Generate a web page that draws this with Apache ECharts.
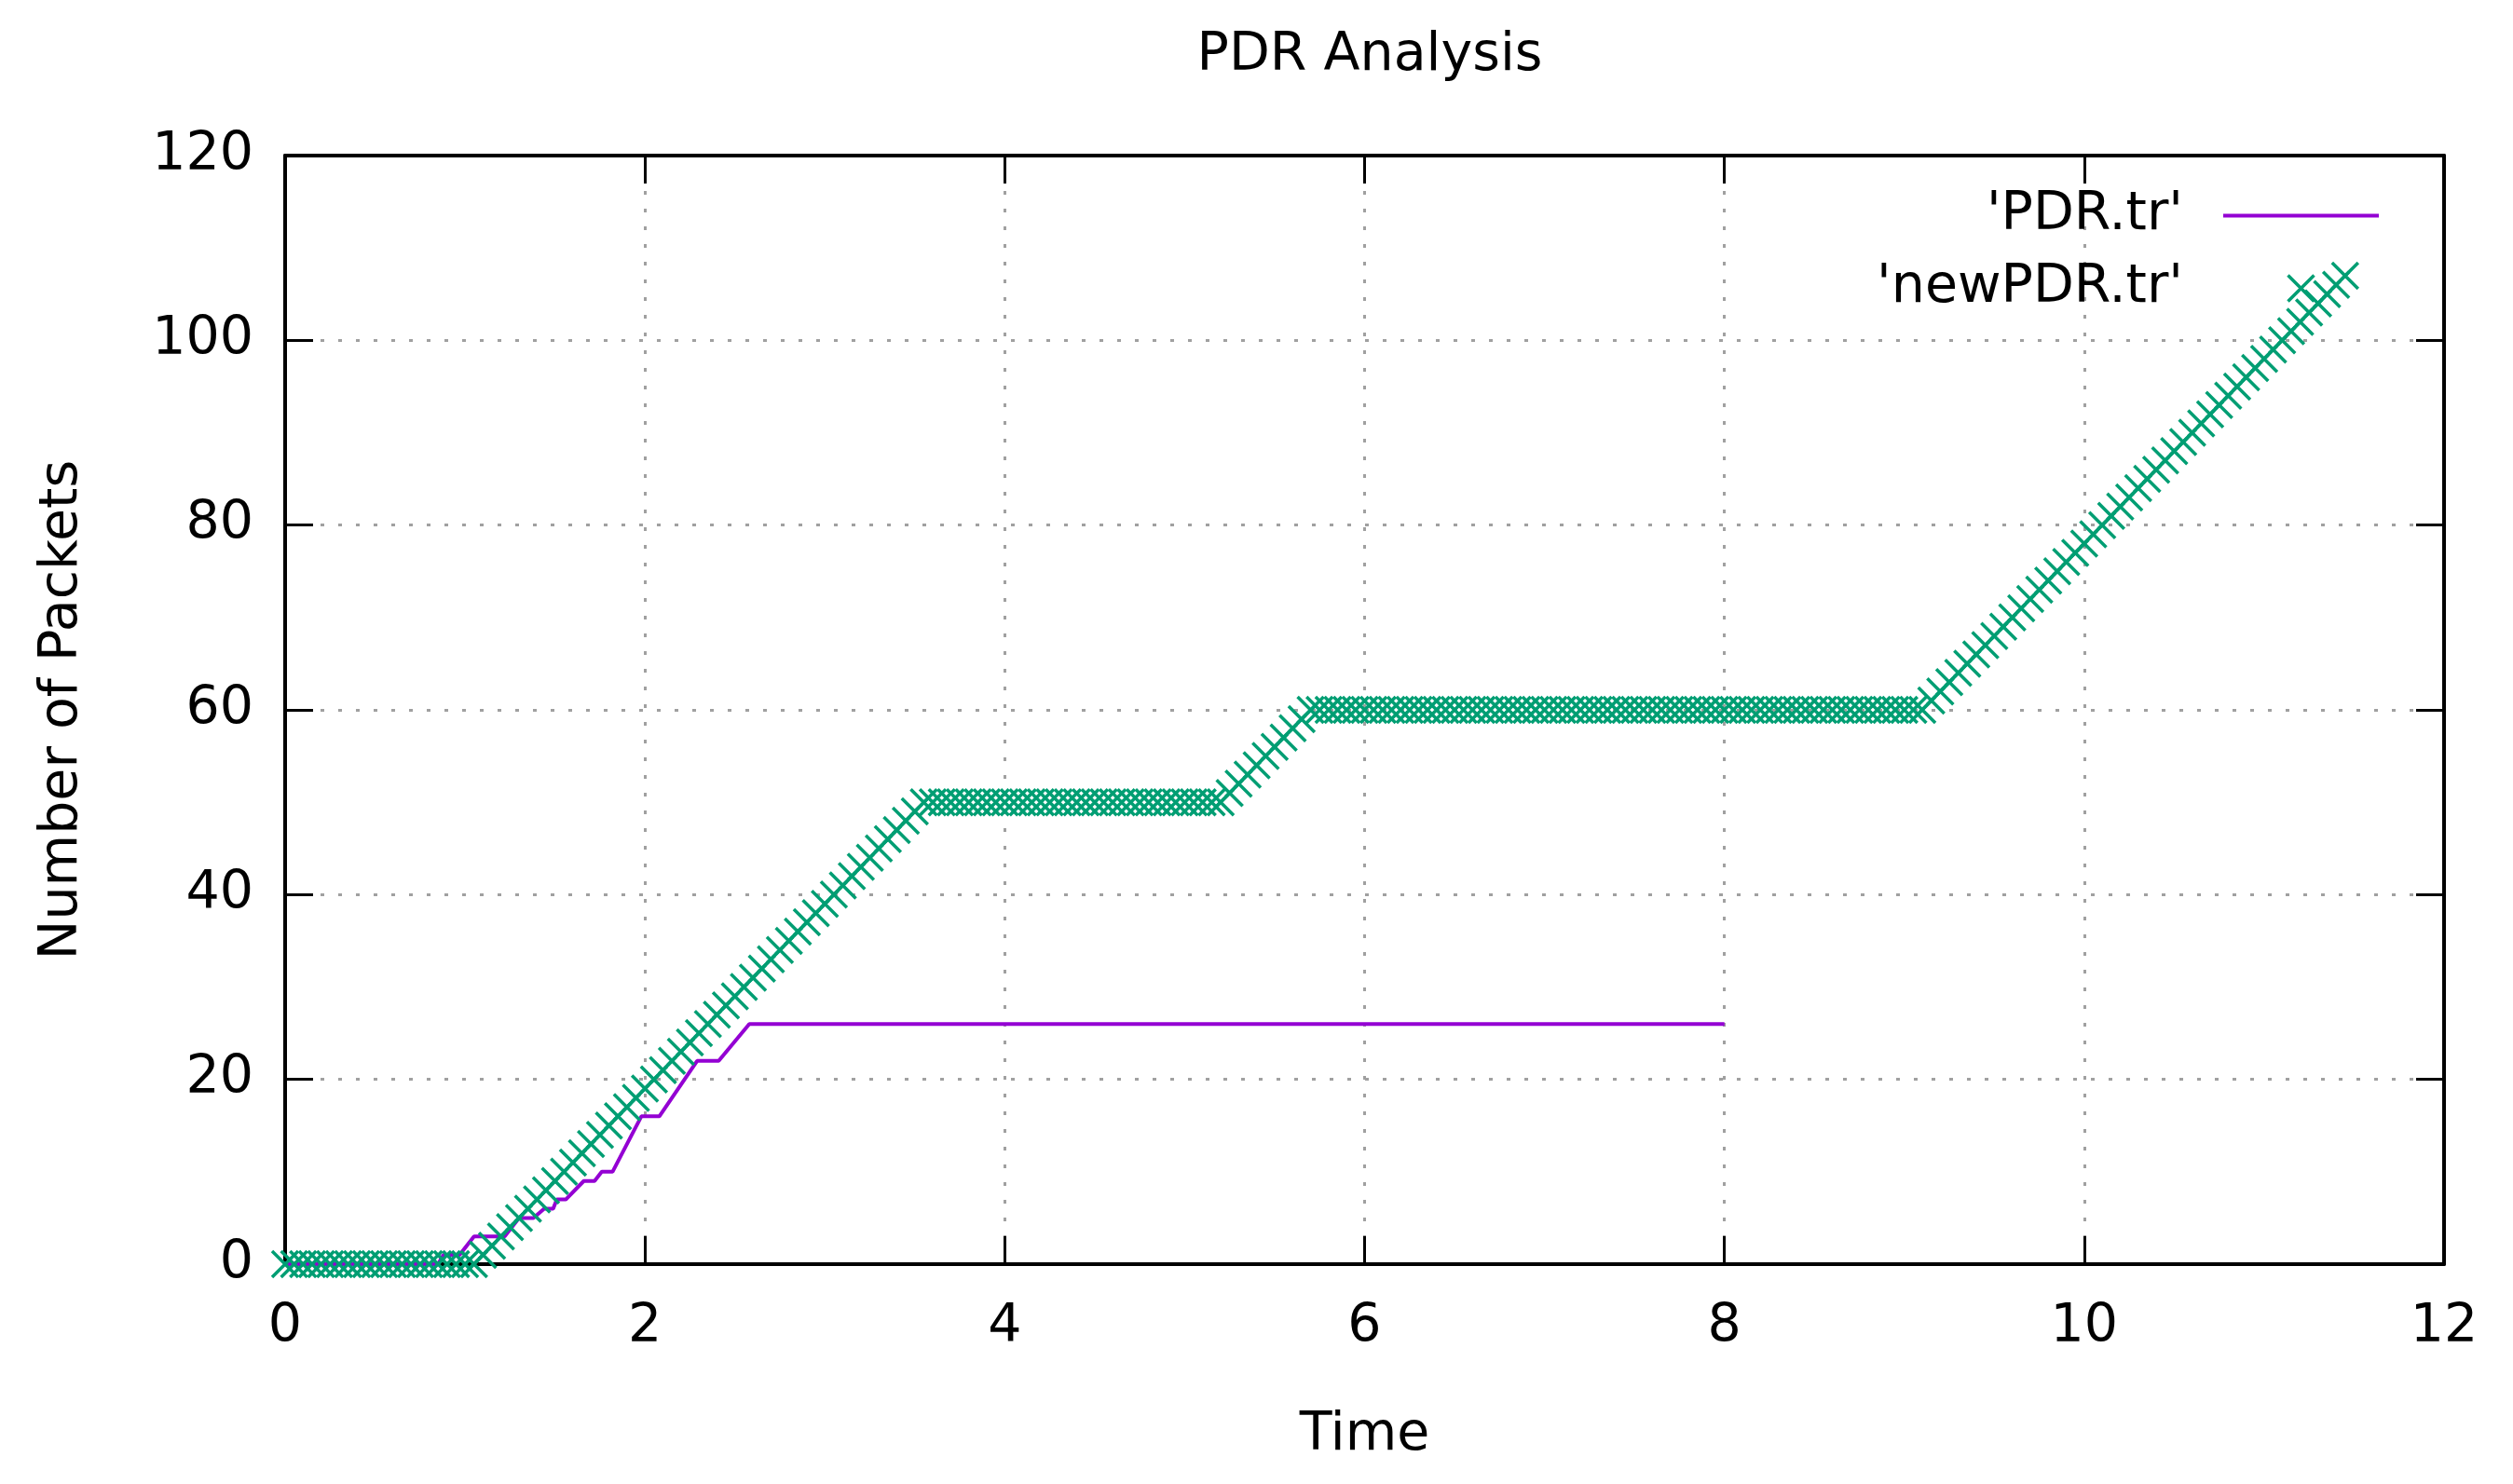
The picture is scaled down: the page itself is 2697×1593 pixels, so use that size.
<!DOCTYPE html>
<html><head><meta charset="utf-8">
<script src="https://cdn.jsdelivr.net/npm/echarts@6/dist/echarts.min.js"></script>
<style>html,body{margin:0;padding:0;background:#fff}#c{width:2697px;height:1593px}</style>
</head><body><div id="c"></div>
<script>
const titleText = 'PDR Analysis';
const xName = 'Time';
const yName = 'Number of Packets';
const seriesNames = ["'PDR.tr'", "'newPDR.tr'"];
const xTicks = [0, 2, 4, 6, 8, 10, 12];
const yTicks = [0, 20, 40, 60, 80, 100, 120];

const pdrTime  = [0, 0.85, 0.88, 0.97, 1.05, 1.22, 1.30, 1.38, 1.44, 1.49, 1.51, 1.56, 1.66, 1.72, 1.76, 1.82, 1.98, 2.08, 2.29, 2.41, 2.58, 8.0];
const pdrCount = [0, 0,    1,    1,    3,    3,    5,    5,    6,    6,    7,    7,    9,    9,    10,   10,   16,   16,   22,   22,   26,   26];

const newTime = [
  0,0.05,0.1,0.15,0.2,0.25,0.3,0.35,0.4,0.45,0.5,0.55,0.6,0.65,0.7,0.75,0.8,0.85,0.9,0.95,
  1,1.05,1.1,1.15,1.2,1.25,1.3,1.35,1.4,1.45,1.5,1.55,1.6,1.65,1.7,1.75,1.8,1.85,1.9,1.95,
  2,2.05,2.1,2.15,2.2,2.25,2.3,2.35,2.4,2.45,2.5,2.55,2.6,2.65,2.7,2.75,2.8,2.85,2.9,2.95,
  3,3.05,3.1,3.15,3.2,3.25,3.3,3.35,3.4,3.45,3.5,3.55,3.6,3.65,3.7,3.75,3.8,3.85,3.9,3.95,
  4,4.05,4.1,4.15,4.2,4.25,4.3,4.35,4.4,4.45,4.5,4.55,4.6,4.65,4.7,4.75,4.8,4.85,4.9,4.95,
  5,5.05,5.1,5.15,5.2,5.25,5.3,5.35,5.4,5.45,5.5,5.55,5.6,5.65,5.7,5.75,5.8,5.85,5.9,5.95,
  6,6.05,6.1,6.15,6.2,6.25,6.3,6.35,6.4,6.45,6.5,6.55,6.6,6.65,6.7,6.75,6.8,6.85,6.9,6.95,
  7,7.05,7.1,7.15,7.2,7.25,7.3,7.35,7.4,7.45,7.5,7.55,7.6,7.65,7.7,7.75,7.8,7.85,7.9,7.95,
  8,8.05,8.1,8.15,8.2,8.25,8.3,8.35,8.4,8.45,8.5,8.55,8.6,8.65,8.7,8.75,8.8,8.85,8.9,8.95,
  9,9.05,9.1,9.15,9.2,9.25,9.3,9.35,9.4,9.45,9.5,9.55,9.6,9.65,9.7,9.75,9.8,9.85,9.9,9.95,
  10,10.05,10.1,10.15,10.2,10.25,10.3,10.35,10.4,10.45,10.5,10.55,10.6,10.65,10.7,10.75,10.8,10.85,10.9,10.95,
  11,11.05,11.1,11.15,11.2,11.25,11.3,11.35,11.4,11.45
];
const newCount = [
  0,0,0,0,0,0,0,0,0,0,0,0,0,0,0,0,0,0,0,0,
  0,0,1,2,3,4,5,6,7,8,9,10,11,12,13,14,15,16,17,18,
  19,20,21,22,23,24,25,26,27,28,29,30,31,32,33,34,35,36,37,38,
  39,40,41,42,43,44,45,46,47,48,49,50,50,50,50,50,50,50,50,50,
  50,50,50,50,50,50,50,50,50,50,50,50,50,50,50,50,50,50,50,50,
  50,50,50,50,50,51,52,53,54,55,56,57,58,59,60,60,60,60,60,60,
  60,60,60,60,60,60,60,60,60,60,60,60,60,60,60,60,60,60,60,60,
  60,60,60,60,60,60,60,60,60,60,60,60,60,60,60,60,60,60,60,60,
  60,60,60,60,60,60,60,60,60,60,60,60,60,60,60,60,60,60,60,60,
  60,60,60,61,62,63,64,65,66,67,68,69,70,71,72,73,74,75,76,77,
  78,79,80,81,82,83,84,85,86,87,88,89,90,91,92,93,94,95,96,97,
  98,99,100,101,102,103,104,105,106,107
];

const FONT = 'DejaVu Sans';
const FS = 57;
const PURPLE = '#9400d3';
const GREEN = '#009e73';
const CROSS = 'path://M0,0L10,10M0,10L10,0';
const LINE_ICON = 'path://M0,0L167,0L167,4L0,4Z';

const zip = (a, b) => a.map((v, i) => [v, b[i]]);

const chart = echarts.init(document.getElementById('c'), null, {renderer: 'canvas'});

const gridLine = {show: true, lineStyle: {color: '#a0a0a0', width: 3, type: [4, 15]}};
const axisLineStyle = {show: true, onZero: false, lineStyle: {color: '#000', width: 4}};
const tickStyle = {show: true, inside: true, length: 30, lineStyle: {color: '#000', width: 3}};
const labelText = {color: '#000', fontSize: FS, fontFamily: FONT};

const xMin = xTicks[0], xMax = xTicks[xTicks.length - 1], xStep = xTicks[1] - xTicks[0];
const yMin = yTicks[0], yMax = yTicks[yTicks.length - 1], yStep = yTicks[1] - yTicks[0];

chart.setOption({
  animation: false,
  backgroundColor: '#fff',
  title: {
    text: titleText, left: 1465, textAlign: 'center', top: 27,
    textStyle: {color: '#000', fontSize: FS, fontWeight: 'normal', fontFamily: FONT}
  },
  legend: {
    orient: 'vertical', align: 'right', right: 144, top: 203, padding: 0,
    itemWidth: 167, itemHeight: 28, itemGap: 21,
    textStyle: {color: '#000', fontSize: FS, fontFamily: FONT, padding: [0, 38, 0, 0]},
    data: [
      {name: seriesNames[0], icon: LINE_ICON, itemStyle: {color: PURPLE, borderWidth: 0}},
      {name: seriesNames[1], itemStyle: {borderWidth: 3.5, borderColor: GREEN}}
    ]
  },
  grid: {left: 306, right: 74, top: 167, bottom: 236, containLabel: false},
  xAxis: [
    {
      type: 'value', position: 'bottom', min: xMin, max: xMax, interval: xStep,
      name: xName, nameLocation: 'middle', nameGap: 156,
      nameTextStyle: labelText,
      axisLine: axisLineStyle, axisTick: tickStyle,
      axisLabel: Object.assign({margin: 40}, labelText),
      splitLine: gridLine
    },
    {
      type: 'value', position: 'top', min: xMin, max: xMax, interval: xStep,
      axisLine: axisLineStyle, axisTick: tickStyle,
      axisLabel: {show: false}, splitLine: {show: false}
    }
  ],
  yAxis: [
    {
      type: 'value', position: 'left', min: yMin, max: yMax, interval: yStep,
      name: yName, nameLocation: 'middle', nameGap: 210, nameRotate: 90,
      nameTextStyle: labelText,
      axisLine: axisLineStyle, axisTick: tickStyle,
      axisLabel: Object.assign({margin: 34}, labelText),
      splitLine: gridLine
    },
    {
      type: 'value', position: 'right', min: yMin, max: yMax, interval: yStep,
      axisLine: axisLineStyle, axisTick: tickStyle,
      axisLabel: {show: false}, splitLine: {show: false}
    }
  ],
  series: [
    {
      name: seriesNames[0], type: 'line', xAxisIndex: 0, yAxisIndex: 0,
      data: zip(pdrTime, pdrCount),
      symbol: 'none', showSymbol: false, clip: false,
      color: PURPLE,
      lineStyle: {color: PURPLE, width: 4},
      z: 2
    },
    {
      name: seriesNames[1], type: 'scatter', xAxisIndex: 0, yAxisIndex: 0,
      data: zip(newTime, newCount),
      symbol: CROSS, symbolSize: 28, clip: false,
      itemStyle: {color: GREEN, borderColor: GREEN, borderWidth: 3.5, opacity: 1},
      z: 3
    }
  ]
});
</script>
</body></html>
